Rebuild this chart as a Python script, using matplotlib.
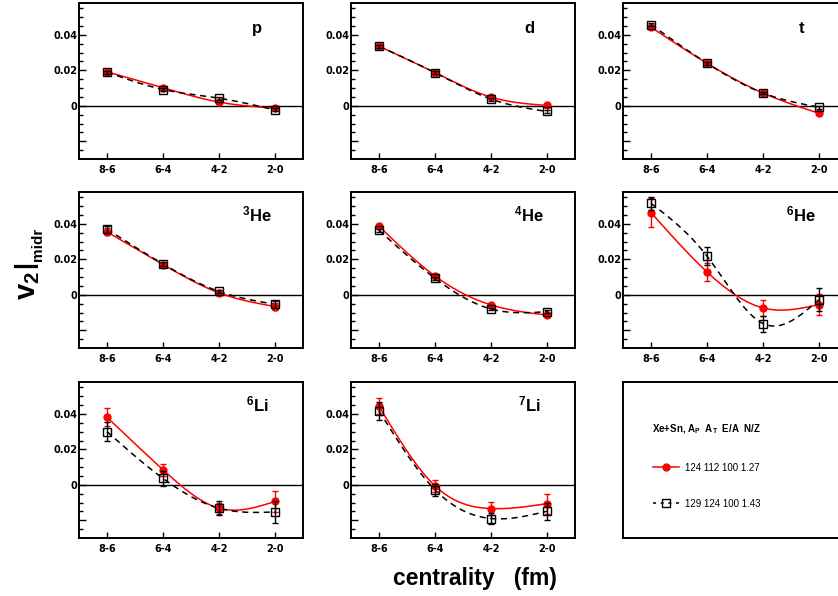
import matplotlib
matplotlib.use("Agg")
import matplotlib.pyplot as plt
import numpy as np

plt.rcParams['font.family'] = ['Liberation Sans', 'DejaVu Sans']
plt.rcParams['mathtext.fontset'] = 'custom'
plt.rcParams['mathtext.rm'] = 'Liberation Sans'
plt.rcParams['mathtext.bf'] = 'Liberation Sans:bold'
plt.rcParams['mathtext.it'] = 'Liberation Sans:italic'

# centrality bins (fm)
centrality = ['8-6', '6-4', '4-2', '2-0']
species = ['p', 'd', 't', r'$^{\mathbf{3}}$He', r'$^{\mathbf{4}}$He', r'$^{\mathbf{6}}$He',
           r'$^{\mathbf{6}}$Li', r'$^{\mathbf{7}}$Li']

# Xe124 + Sn112, N/Z 1.27
v2_124 = np.array([
    [0.0192, 0.0102, 0.0021, -0.0013],
    [0.0336, 0.0187, 0.0049, 0.0002],
    [0.0443, 0.0240, 0.0072, -0.0042],
    [0.0355, 0.0171, 0.0011, -0.0066],
    [0.0387, 0.0106, -0.0057, -0.0114],
    [0.0464, 0.0129, -0.0074, -0.0055],
    [0.0381, 0.0085, -0.0132, -0.0094],
    [0.0443, -0.0006, -0.0134, -0.0106],
])
err_124 = np.array([
    [0.0008, 0.0008, 0.0008, 0.0008],
    [0.0008, 0.0008, 0.0008, 0.0008],
    [0.0008, 0.0008, 0.0008, 0.0010],
    [0.0020, 0.0010, 0.0010, 0.0020],
    [0.0010, 0.0008, 0.0008, 0.0010],
    [0.0080, 0.0050, 0.0045, 0.0060],
    [0.0050, 0.0033, 0.0030, 0.0058],
    [0.0045, 0.0035, 0.0037, 0.0057],
])

# Xe129 + Sn124, N/Z 1.43
v2_129 = np.array([
    [0.0190, 0.0092, 0.0043, -0.0023],
    [0.0336, 0.0187, 0.0038, -0.0032],
    [0.0458, 0.0240, 0.0072, -0.0008],
    [0.0370, 0.0174, 0.0019, -0.0053],
    [0.0364, 0.0093, -0.0080, -0.0095],
    [0.0516, 0.0218, -0.0162, -0.0027],
    [0.0300, 0.0036, -0.0132, -0.0153],
    [0.0417, -0.0028, -0.0190, -0.0149],
])
err_129 = np.array([
    [0.0008, 0.0008, 0.0008, 0.0008],
    [0.0008, 0.0008, 0.0008, 0.0008],
    [0.0008, 0.0008, 0.0008, 0.0008],
    [0.0020, 0.0010, 0.0010, 0.0020],
    [0.0010, 0.0008, 0.0008, 0.0010],
    [0.0035, 0.0050, 0.0045, 0.0065],
    [0.0053, 0.0040, 0.0040, 0.0060],
    [0.0050, 0.0035, 0.0030, 0.0047],
])

label_124 = '124 112 100 1.27'
label_129 = '129 124 100 1.43'


# natural cubic spline through equally spaced points (like ROOT "C" option)
def smooth(y, n=200):
    y = np.asarray(y, dtype=float)
    m = len(y)
    A = np.zeros((m, m))
    b = np.zeros(m)
    A[0, 0] = A[-1, -1] = 1
    for i in range(1, m - 1):
        A[i, i - 1] = 1
        A[i, i] = 4
        A[i, i + 1] = 1
        b[i] = 6 * (y[i - 1] - 2 * y[i] + y[i + 1])
    M = np.linalg.solve(A, b)
    xs = np.linspace(0, m - 1, n)
    i = np.minimum(xs.astype(int), m - 2)
    t = xs - i
    ys = ((1 - t) * y[i] + t * y[i + 1]
          + ((1 - t) ** 3 - (1 - t)) * M[i] / 6 + (t ** 3 - t) * M[i + 1] / 6)
    return xs, ys


W, H = 838, 596
fig = plt.figure(figsize=(W / 100, H / 100), dpi=100)

col_left = [79, 351, 623]
row_bottom = [159, 348, 538]
pw, ph = 224, 156

x = np.arange(len(centrality))
tick_font = dict(fontfamily='DejaVu Sans', fontweight='bold', fontsize=7)

for k, name in enumerate(species):
    r, c = divmod(k, 3)
    ax = fig.add_axes([col_left[c] / W, 1 - row_bottom[r] / H, pw / W, ph / H])
    for s in ax.spines.values():
        s.set_linewidth(1.4)

    ax.axhline(0, color='black', lw=1)

    xs, ys = smooth(v2_124[k])
    ax.plot(xs, ys, color='red', lw=1.1, zorder=3)
    xs, ys = smooth(v2_129[k])
    ax.plot(xs, ys, color='black', lw=1.1, dashes=(4, 3), zorder=3)

    ax.errorbar(x, v2_124[k], yerr=err_124[k], fmt='o', color='red', ms=5,
                capsize=2, elinewidth=1, zorder=4)
    ax.errorbar(x, v2_129[k], yerr=err_129[k], fmt='s', color='black', mfc='none',
                mew=1, ms=6, capsize=2, elinewidth=1, zorder=5)

    ax.set_xlim(-0.5, 3.5)
    ax.set_ylim(-0.030, 0.058)
    ax.set_xticks(x)
    ax.set_xticklabels(centrality, **tick_font)
    ax.set_yticks([-0.02, 0, 0.02, 0.04])
    ax.set_yticklabels(['', '0', '0.02', '0.04'], **tick_font)
    ax.set_yticks(np.arange(-0.025, 0.058, 0.005), minor=True)
    ax.tick_params(axis='y', which='major', direction='in', length=5, width=1, pad=1)
    ax.tick_params(axis='y', which='minor', direction='in', length=3, width=1)
    ax.tick_params(axis='x', which='major', direction='in', length=4, width=1, pad=4)

    ax.text(0.795, 0.81, name, transform=ax.transAxes, ha='center', va='baseline',
            fontsize=12, fontweight='bold')

# legend panel
lax = fig.add_axes([col_left[2] / W, 1 - row_bottom[2] / H, pw / W, ph / H])
for s in lax.spines.values():
    s.set_linewidth(1.4)
lax.set_xticks([])
lax.set_yticks([])
lax.text(0.13, 0.68, r'Xe+Sn, A$_{\mathbf{P}}$  A$_{\mathbf{T}}$  E/A  N/Z',
         transform=lax.transAxes, fontsize=7, fontweight='bold', va='baseline')
h1, = lax.plot([], [], color='red', lw=1.1, marker='o', ms=5)
h2, = lax.plot([], [], color='black', lw=1.1, dashes=(2, 3), marker='s', ms=6,
               mfc='none', mew=1)
lax.legend([h1, h2], [label_124, label_129], loc='upper left',
           bbox_to_anchor=(0.11, 0.515), frameon=False, fontsize=7,
           handlelength=2.7, handletextpad=0.6, labelspacing=2.7, borderpad=0)

# y title: v_2 |_midr
fig.text(28 / W, 1 - 300 / H, r'$\mathbf{v_{2}}$', rotation=90,
         fontsize=21, ha='center', va='bottom')
fig.text(27 / W, 1 - 266 / H, r'$\mathbf{|}$', rotation=90,
         fontsize=18, ha='center', va='center')
fig.text(38 / W, 1 - 244 / H, 'midr', rotation=90,
         fontsize=11, fontweight='bold', ha='center', va='center')
fig.text(475 / W, 1 - 578 / H, 'centrality   (fm)', fontsize=16.5,
         fontweight='bold', ha='center', va='center')

fig.savefig('out.png', dpi=100)
